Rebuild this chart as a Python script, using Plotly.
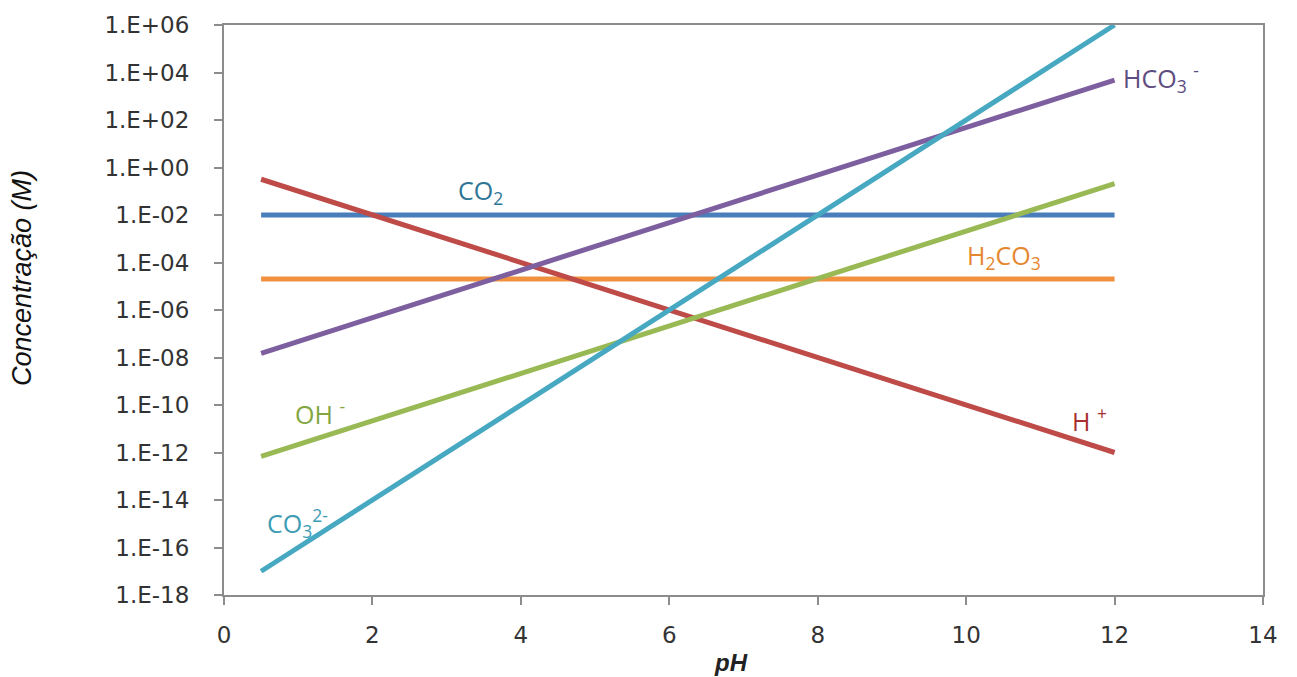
import plotly.graph_objects as go

# pH values at which concentrations were read
ph = [0.5, 2, 4, 6, 8, 10, 12]

# concentrations (M)
co2 = [1e-2, 1e-2, 1e-2, 1e-2, 1e-2, 1e-2, 1e-2]
h2co3 = [2e-5, 2e-5, 2e-5, 2e-5, 2e-5, 2e-5, 2e-5]
h_plus = [3.2e-1, 1e-2, 1e-4, 1e-6, 1e-8, 1e-10, 1e-12]
oh_minus = [6.8e-13, 2.1e-11, 2.1e-9, 2.1e-7, 2.1e-5, 2.1e-3, 2.1e-1]
hco3 = [1.5e-8, 4.8e-7, 4.8e-5, 4.8e-3, 4.8e-1, 4.8e1, 4.8e3]
co3 = [1e-17, 1e-14, 1e-10, 1e-6, 1e-2, 1e2, 1e6]

y_tickvals = [1e-18, 1e-16, 1e-14, 1e-12, 1e-10, 1e-8, 1e-6, 1e-4, 1e-2, 1e0, 1e2, 1e4, 1e6]
y_ticktext = ["1.E-18", "1.E-16", "1.E-14", "1.E-12", "1.E-10", "1.E-08", "1.E-06",
              "1.E-04", "1.E-02", "1.E+00", "1.E+02", "1.E+04", "1.E+06"]
x_tickvals = [0, 2, 4, 6, 8, 10, 12, 14]

series = [
    ("CO2", co2, "#4A7EBB"),
    ("H2CO3", h2co3, "#F0913F"),
    ("H+", h_plus, "#BE4B48"),
    ("OH-", oh_minus, "#98B954"),
    ("HCO3-", hco3, "#7D5FA0"),
    ("CO3 2-", co3, "#47A8C1"),
]

W, H = 1297, 677
ML, MR, MT, MB = 224, 34, 25, 82
plot_w = W - ML - MR
plot_h = H - MT - MB


def px_to_paper(px, py):
    return (px - ML) / plot_w, (H - MB - py) / plot_h


fig = go.Figure()
for name, vals, col in series:
    fig.add_trace(go.Scatter(x=ph, y=vals, mode="lines", name=name,
                             line=dict(color=col, width=5), showlegend=False))

lab_font = "Open Sans, Lato, sans-serif"
labels = [
    (3.12, -1.0, "CO<sub>2</sub>", "#2F7596"),
    (9.98, -3.75, "H<sub>2</sub>CO<sub>3</sub>", "#E6872F"),
    (11.4, -10.6, "H <sup>+</sup>", "#A8302E"),
    (0.93, -10.3, "OH <sup>-</sup>", "#83A640"),
    (12.08, 3.75, "HCO<sub>3</sub> <sup>-</sup>", "#5E4D80"),
    (0.55, -14.95, "CO<sub>3</sub><sup>2-</sup>", "#3D9CB4"),
]
for x, ly, txt, col in labels:
    fig.add_annotation(x=x, y=ly, xref="x", yref="y", text=txt, showarrow=False,
                       xanchor="left", yanchor="middle",
                       font=dict(family=lab_font, size=25, color=col))

# axis titles as annotations for precise placement
tx, ty = px_to_paper(22, 278)
fig.add_annotation(x=tx, y=ty, xref="paper", yref="paper", text="<i>Concentração (M)</i>",
                   showarrow=False, textangle=-90, xanchor="center", yanchor="middle",
                   font=dict(family="Arial, Liberation Sans, sans-serif", size=27, color="#111111"))
tx, ty = px_to_paper(731, 662)
fig.add_annotation(x=tx, y=ty, xref="paper", yref="paper", text="<b><i>pH</i></b>",
                   showarrow=False, xanchor="center", yanchor="middle",
                   font=dict(family="Arial, Liberation Sans, sans-serif", size=24, color="#222222"))

axis_font = dict(family="DejaVu Sans, sans-serif", size=23, color="#333333")

fig.update_layout(
    width=W, height=H,
    margin=dict(l=ML, r=MR, t=MT, b=MB),
    paper_bgcolor="white", plot_bgcolor="white",
    xaxis=dict(range=[0, 14], tickvals=x_tickvals,
               showgrid=False, zeroline=False,
               showline=True, linecolor="#8C8C8C", linewidth=2, mirror=True,
               ticks="outside", ticklen=8, tickwidth=1.5, tickcolor="#8C8C8C",
               tickfont=axis_font, ticklabelstandoff=10),
    yaxis=dict(type="log", range=[-18, 6], tickvals=y_tickvals, ticktext=y_ticktext,
               showgrid=False, zeroline=False,
               showline=True, linecolor="#8C8C8C", linewidth=2, mirror=True,
               ticks="outside", ticklen=8, tickwidth=1.5, tickcolor="#8C8C8C",
               tickfont=axis_font, ticklabelstandoff=20),
)

fig.write_html("out.html")
